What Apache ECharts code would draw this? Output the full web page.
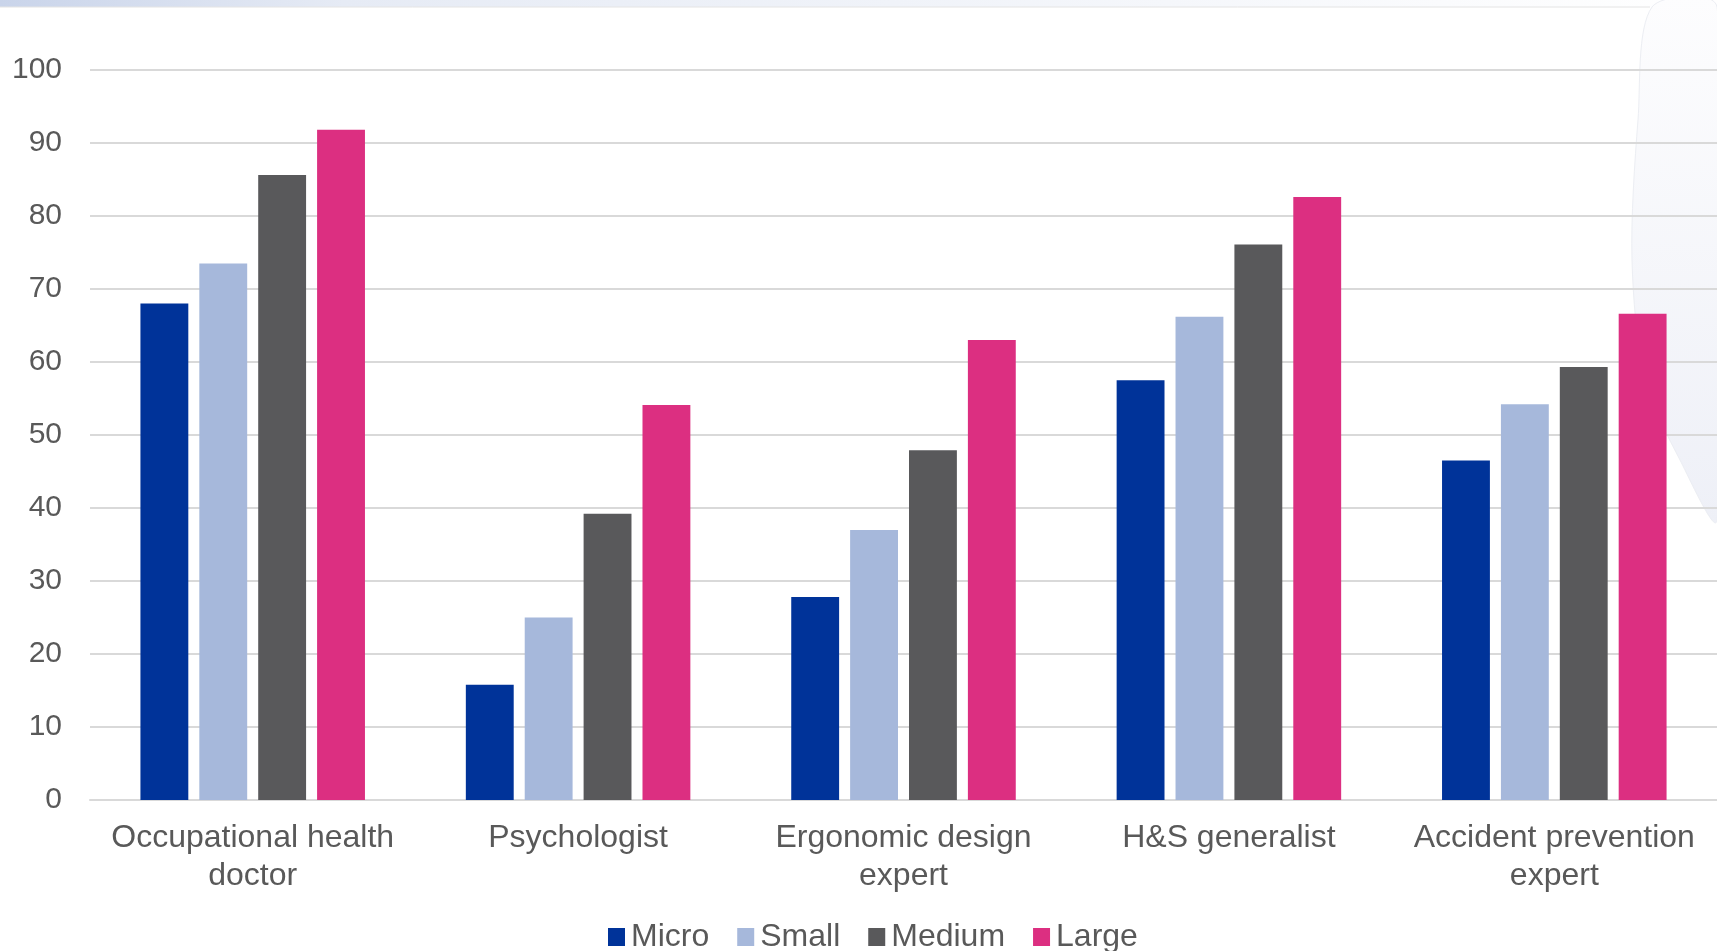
<!DOCTYPE html>
<html>
<head>
<meta charset="utf-8">
<title>Chart</title>
<script src="https://cdn.jsdelivr.net/npm/echarts@6/dist/echarts.min.js"></script>
<style>
  html, body { margin: 0; padding: 0; background: #ffffff; }
  #chart { width: 1717px; height: 951px; }
</style>
</head>
<body>
<div id="chart"></div>
<script>
const categories = [
  'Occupational health\ndoctor',
  'Psychologist',
  'Ergonomic design\nexpert',
  'H&S generalist',
  'Accident prevention\nexpert'
];
const seriesNames = ['Micro', 'Small', 'Medium', 'Large'];
const microValues  = [68.0, 15.8, 27.8, 57.5, 46.5];
const smallValues  = [73.5, 25.0, 37.0, 66.2, 54.2];
const mediumValues = [85.6, 39.2, 47.9, 76.1, 59.3];
const largeValues  = [91.8, 54.1, 63.0, 82.6, 66.6];
const seriesColors = ['#003399', '#A6B8DB', '#59595B', '#DC2F81'];
const yTicks = { min: 0, max: 100, interval: 10 };

const chart = echarts.init(document.getElementById('chart'));
const allValues = [microValues, smallValues, mediumValues, largeValues];

const textColor = '#595959';
const fontFamily = '"Liberation Sans", Arial, sans-serif';

chart.setOption({
  backgroundColor: '#ffffff',
  animation: false,
  graphic: [
    {
      type: 'rect',
      shape: { x: 0, y: 0, width: 1717, height: 7 },
      style: {
        fill: new echarts.graphic.LinearGradient(0, 0, 1, 0, [
          { offset: 0, color: '#c9d4ea' },
          { offset: 0.2, color: '#e6ebf5' },
          { offset: 1, color: '#ffffff' }
        ])
      },
      z: -10
    },
    {
      type: 'line',
      shape: { x1: 0, y1: 7, x2: 1650, y2: 7 },
      style: { stroke: '#e4e4e4', lineWidth: 1 },
      z: -10
    },
    {
      type: 'polygon',
      shape: {
        points: [[1652, 7], [1638, 120], [1632, 260], [1645, 380], [1680, 460], [1717, 520], [1717, 7]],
        smooth: 0.3
      },
      style: {
        fill: new echarts.graphic.LinearGradient(0, 0, 0, 1, [
          { offset: 0, color: '#fdfdfe' },
          { offset: 1, color: '#eef0f7' }
        ]),
        stroke: '#eceef3',
        lineWidth: 1
      },
      z: -10
    }
  ],
  grid: { left: 90, right: 0, top: 70, bottom: 151, containLabel: false },
  legend: {
    data: seriesNames,
    left: 603,
    top: 916,
    itemWidth: 17,
    itemHeight: 18,
    itemGap: 28,
    icon: 'rect',
    textStyle: { color: textColor, fontSize: 32, fontFamily: fontFamily, padding: [0, 0, 0, 1] }
  },
  xAxis: {
    type: 'category',
    data: categories,
    axisLine: { show: true, lineStyle: { color: '#d9d9d9', width: 2 } },
    axisTick: { show: false },
    axisLabel: {
      color: textColor,
      fontSize: 32,
      fontFamily: fontFamily,
      lineHeight: 38,
      margin: 19,
      interval: 0
    }
  },
  yAxis: {
    type: 'value',
    min: yTicks.min,
    max: yTicks.max,
    interval: yTicks.interval,
    axisLine: { show: false },
    axisTick: { show: false },
    splitLine: { lineStyle: { color: '#d9d9d9', width: 2 } },
    axisLabel: {
      color: textColor,
      fontSize: 30,
      fontFamily: fontFamily,
      margin: 28
    }
  },
  series: seriesNames.map((name, i) => ({
    name: name,
    type: 'bar',
    data: allValues[i],
    barGap: '23%',
    barCategoryGap: '31%',
    itemStyle: { color: seriesColors[i] }
  }))
});
</script>
</body>
</html>
